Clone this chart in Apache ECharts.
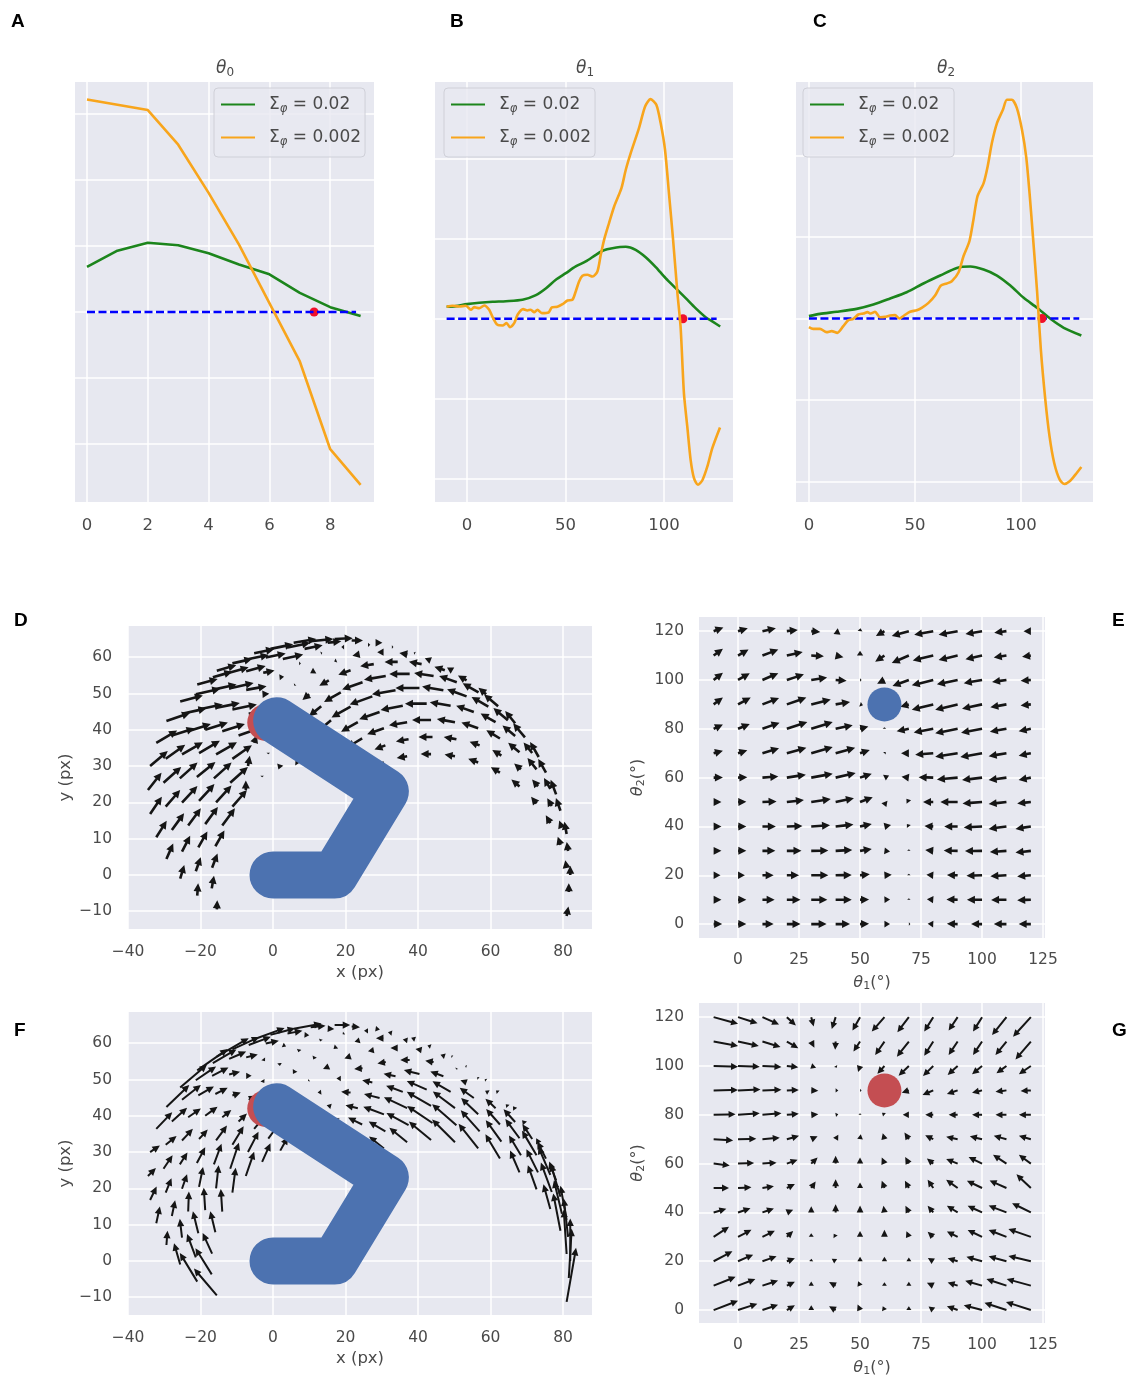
<!DOCTYPE html>
<html><head><meta charset="utf-8">
<style>html,body{margin:0;padding:0;background:#fff}#c{width:1129px;height:1378px}</style>
<script src="https://cdn.jsdelivr.net/npm/echarts@6/dist/echarts.min.js"></script>
</head><body><div id="c"></div>
<script>
// ---- panels A, B, C: curves [x, y] ----
const aGreen=[[0,.683],[1,.928],[2,1.05],[3,1.01],[4,.89],[5,.72],[6,.57],[7,.29],[8,.073],[9,-.063]];
const aOrange=[[0,3.22],[1,3.14],[2,3.06],[3,2.535],[4,1.805],[5,1.02],[6,.135],[7,-.75],[8,-2.08],[9,-2.62]];
const bGreen=[[-10.3,.15],[-5.6,.158],[0,.183],[6.25,.2],[13,.2125],[19.8,.22],[28.2,.2375],[35,.296],[40,.379],[45.1,.488],[50.2,.57],[55.2,.654],[60.3,.717],[65.4,.8],[69.1,.854],[73.8,.883],[80.6,.9],[85.6,.8625],[90.7,.77],[95.8,.646],[100.8,.508],[105.9,.383],[111,.258],[116,.133],[121.1,.02],[124.5,-.033],[128.5,-.096]];
const bOrange=[[-10.3,.15],[-7.3,.1625],[-3.9,.154],[-.5,.1625],[2,.1125],[3.7,.146],[6.25,.133],[8.8,.167],[11.3,.1125],[13.3,.008],[15.5,-.075],[18.1,-.083],[20.1,-.054],[21.8,-.104],[24,-.054],[25.7,.05],[28.5,.121],[30.7,.104],[32.4,.113],[34.1,.083],[35.8,.113],[38,.071],[41.4,.079],[43.1,.142],[45.9,.15],[48.5,.183],[51,.229],[53.5,.2375],[55.2,.342],[56.9,.467],[58.6,.538],[61.1,.55],[63.7,.529],[66.2,.592],[67.9,.8],[69.6,.9875],[72.1,1.196],[74.7,1.404],[78.4,1.633],[80.6,1.863],[83.1,2.071],[87.3,2.383],[90.4,2.654],[93.2,2.746],[96.1,2.675],[98.3,2.446],[100.5,2.113],[102.5,1.571],[104.6,.988],[106.8,.321],[108.4,-.096],[110.1,-.929],[111.8,-1.346],[113.5,-1.763],[115.2,-1.992],[117.2,-2.075],[119.4,-2.021],[122,-1.846],[124.5,-1.617],[128.4,-1.358]];
const cGreen=[[0,.029],[5.2,.057],[13.1,.082],[22.5,.118],[30.4,.171],[38.3,.245],[46.1,.322],[54,.429],[61.9,.527],[69.8,.62],[76.1,.637],[82.4,.6],[88.7,.527],[95,.404],[101.3,.253],[107.6,.131],[113.9,-.004],[120.2,-.114],[128.5,-.208]];
const cOrange=[[0,-.106],[2,-.127],[5.2,-.127],[8.3,-.167],[10.7,-.155],[13.4,-.176],[16.2,-.094],[18.6,-.02],[20.9,-.004],[23.3,.049],[25.7,.061],[27.6,.078],[29.1,.061],[31.2,.082],[33.5,.016],[35.9,.02],[38.3,.037],[40.6,.041],[42.7,0],[44.9,.037],[47.7,.082],[50.9,.102],[53.2,.131],[56.4,.192],[59.5,.282],[62.2,.404],[65,.429],[67.4,.457],[70.6,.567],[72.9,.763],[75.7,.947],[77.6,1.212],[79.5,1.498],[82.4,1.661],[84.3,1.865],[86.3,2.151],[88.7,2.396],[91.5,2.559],[93.4,2.682],[95.7,2.682],[98.1,2.58],[100.5,2.314],[102.5,1.98],[104.1,1.527],[105.7,.996],[107.6,.343],[109.4,-.382],[111.5,-.994],[113.5,-1.445],[115.7,-1.771],[118.3,-1.976],[120.5,-2.029],[123,-1.996],[125.7,-1.914],[128.5,-1.82]];
const aTarget=[[0,0],[8.85,0]], bTarget=[[-10.3,0],[126.7,0]], cTarget=[[0,0],[127.5,0]];
const aDot=[7.47,0], bDot=[109.6,0], cDot=[109.9,0];
const seriesNames=['Σφ = 0.02','Σφ = 0.002'];
// ---- tick values ----
const aXTicks=[0,2,4,6,8], aYTicks=[-2,-1,0,1,2,3];
const bXTicks=[0,50,100], bYTicks=[-2,-1,0,1,2];
const cXTicks=[0,50,100], cYTicks=[-2,-1,0,1,2];
const xyXTicks=[-40,-20,0,20,40,60,80], xyYTicks=[-10,0,10,20,30,40,50,60];
const angXTicks=[0,25,50,75,100,125], angYTicks=[0,20,40,60,80,100,120];
// ---- robot arm and target ----
const armD=[[0,0],[17,0],[31,23],[1,42.5]];
const targetXY=[-2,42];
const targetAng=[60,90];
// ---- vector field grid in joint space ----
const theta1Cols=[-10,0,10,20,30,40,50,60,70,80,90,100,110,120];
const theta2Rows=[0,10,20,30,40,50,60,70,80,90,100,110,120];
// ---- panel E arrows ----
const eU=[[3.5,3.4,4.6,5.6,6.3,5.9,3.7,2.3,.3,-2.3,-4.4,-4.5,-5.2,-5],
[3.2,3.4,5,5.6,6.6,6.6,3.7,2.3,0,-2.6,-4.6,-6.2,-6.3,-5.6],
[2.8,2.8,4.6,5,7,6.6,4,3,0,-2.8,-4.4,-6.4,-6.6,-5.6],
[3.2,3.4,5.3,6,7,6.8,4.8,2.3,0,-3.3,-5.7,-7,-6.8,-6.3],
[3.2,3.4,5.5,6.4,7.7,7.3,4.8,2.7,-.8,-3.6,-5.5,-7.5,-7.3,-6.3],
[3.2,3.4,5.8,7,8,7.5,5.2,.8,-1,-4.2,-7.1,-8,-7.3,-5.6],
[3.8,3.8,6.5,7.8,8.8,8.2,4.8,1.9,-3,-6,-8.5,-8.2,-7.3,-5],
[3.8,3.8,6.8,8,8.8,8,4,.5,-3.2,-7.4,-9.2,-8.9,-7.3,-5],
[3.8,4.8,7,8.4,8.8,7,3.4,0,-5,-8,-9.2,-8.6,-6.8,-5],
[3.8,5.2,6.8,8,8,5.9,1.2,-2,-3.5,-8.8,-9.2,-8.2,-6.6,-4.2],
[3.8,4.8,6.5,7,6.5,4.5,.3,-3,-6.7,-8.8,-8.5,-7.5,-5.9,-4.2],
[3.8,4.3,6.5,6.5,5.2,3.2,0,-3.8,-7,-8.4,-7.8,-6.8,-5.2,-3.6],
[4,4,5.5,4.5,3.7,2,.2,-3.5,-7,-7.8,-7.8,-6.8,-5,-3]];
const eV=[[0,0,0,0,0,0,.1,0,0,.1,.1,0,0,0],
[0,0,0,0,0,0,.1,.1,.2,.2,.1,0,-.1,-.2],
[0,0,0,0,0,.1,.4,.2,.2,.2,.1,-.2,-.4,-.5],
[0,0,0,0,.1,.4,.8,-.3,.3,.3,.1,-.1,-.5,-.7],
[0,0,0,.2,.5,.8,1,.6,1,.2,0,-.4,-1,-1],
[0,.1,.2,.8,1.2,1.6,2,-2,1.3,0,0,-.6,-.8,-.6],
[0,.2,.5,1.2,1.6,1.9,1.6,.9,.4,.2,-.8,-1,-1,-1],
[1,1.2,2,2.2,2.5,2.2,1.3,.5,0,-.6,-1.5,-1.6,-1.2,-1],
[1.8,2,2.5,2.8,2.8,1.5,.9,.3,-1,-1.5,-1.8,-1.6,-1.2,-1],
[2.8,2.8,2.6,2.8,2,1,-.4,-1,-1,-2.2,-2.2,-1.8,-1.2,-.5],
[3,2.8,2.8,2.3,1,-.3,0,-1.5,-2.5,-2.2,-1.8,-1.3,-.8,-.3],
[2.8,2.5,2.5,1.5,-.3,-.7,2,-2.5,-3,-2,-1.8,-1.5,-.8,-.5],
[1.5,1.2,1.2,.5,-.3,-1.5,1.2,-2,-2,-1.5,-1.5,-1.2,-.7,0]];
// ---- panel G arrows ----
const gU=[[10,7.9,6.4,3.3,0,-2.7,-1,-.7,0,-1.9,-4.4,-7.5,-9,-10.2],
[9,7.1,6.4,3.3,0,-2.7,-.8,0,0,-2.6,-4.1,-6.9,-8.2,-9.9],
[7.7,6.2,5.8,3.3,.1,-1.6,0,0,0,-2.2,-4.1,-6.4,-7.3,-9.2],
[6.3,5.5,5.1,2.6,0,-.8,0,0,-1,-2.3,-4.4,-5.9,-7.3,-9.2],
[5.2,5.1,4.7,2.6,0,0,0,-.4,-1.4,-2.3,-4.4,-5.9,-7.3,-7.7],
[6.3,5.5,4.7,3.3,1.8,0,0,-1.1,-1.6,-2.3,-4.7,-6.2,-6.9,-5.9],
[6.6,6.6,5.8,4.4,2.6,0,0,-1.1,-1.5,-2.6,-4.7,-5.5,-5.5,-4.9],
[8,7.5,7.1,5,2.6,1.1,.3,-.7,-1.8,-3.3,-4.7,-5,-5.2,-4.9],
[9,8.9,7.8,4.9,2.9,1.1,0,-1,-2.5,-3.3,-3.7,-4.1,-4.5,-4.9],
[10,9.2,7.8,4.9,2.9,1.1,.2,-2,-2.9,-4.4,-4.4,-4.1,-4.5,-4.2],
[10,8.9,7.8,4.7,2,.5,-.8,-2.9,-4.2,-4.2,-4.1,-4.1,-4.1,-4.9],
[10,8.5,7.4,4.7,1.3,-.2,-2.7,-3.8,-4.9,-3.7,-3.7,-3.7,-4.5,-6.3],
[10,8,6.8,3.7,1,-1.6,-3.1,-5.2,-4.7,-3.7,-3.7,-3.7,-5.9,-7.3]];
const gV=[[3.8,2.6,2.2,2,2,1.6,2.3,1.6,1.6,1.5,1.6,2,3,3.3],
[3.6,2.7,2.1,1.6,1.7,1.5,1.8,1.4,1.6,1.2,1.3,2,2.7,2.7],
[4.1,2.7,2,1.2,1,1,1.8,1.8,1.5,1.3,1.2,1.8,2,2.2],
[4.1,2.9,2.5,2.4,1.5,1.3,2.4,2.9,2.3,2.1,2.2,2.8,2.8,3.2],
[1.5,1.7,1.6,1.1,2.5,3.3,2.8,2.7,2.7,2.7,2.7,2.7,2.8,3.8],
[0,.3,.7,1.6,2.7,3.6,2.3,3,3,3.4,3.4,3,3.1,5.6],
[-.8,.3,.4,1.6,2.5,3.2,2.5,2.5,2.7,2.1,1.9,2.7,3.6,3.6],
[-.5,.2,.6,1.4,1.2,1.8,2,2.4,2.7,1.6,1,1.2,1.4,1.4],
[.2,.6,.6,.4,.2,.2,.5,.8,0,0,0,0,0,0],
[.2,.4,.3,.2,-.1,0,0,-1,-1,-1.9,-1.5,-1,-.6,-.3],
[-.3,-.3,-.4,-.5,-.7,-.7,-2.5,-3.2,-4,-4.1,-3.7,-3.4,-3,-3.4],
[-1.8,-1.8,-2.2,-2.7,-2.5,-3.4,-4.1,-5.5,-6.2,-5.8,-5.5,-5.5,-5.5,-7.3],
[-2.7,-2.5,-3,-3.4,-3.8,-4.9,-5.5,-5.9,-6.2,-5.9,-5.5,-5.9,-7.3,-8]];
// ---- panels D and F: arrow tails in task space ----
const tailX=[[81,82,81,78.1,73.3,66.8,58.8,49.5,39.2,28.3,17,5.7,-5.2,-15.5],
[81.6,81.4,79.3,75.3,69.5,62.1,53.4,43.5,32.8,21.7,10.4,-.7,-11.2,-20.9],
[81,79.7,76.5,71.5,64.8,56.7,47.4,37.1,26.2,15.1,4,-6.7,-16.6,-25.6],
[79.3,76.9,72.7,66.8,59.4,50.7,41,30.5,19.6,8.7,-2,-12.1,-21.3,-29.4],
[76.5,73.1,68,61.4,53.4,44.3,34.4,23.9,13.2,2.7,-7.4,-16.8,-25.1,-32.2],
[72.7,68.4,62.6,55.4,47,37.7,27.8,17.5,7.2,-2.7,-12.1,-20.6,-27.9,-33.9],
[68,63,56.6,49,40.4,31.1,21.4,11.5,1.8,-7.4,-15.9,-23.4,-29.6,-34.5],
[62.6,57,50.2,42.4,33.8,24.7,15.4,6.1,-2.9,-11.2,-18.7,-25.1,-30.2,-33.9],
[56.6,50.6,43.6,35.8,27.4,18.7,10,1.4,-6.7,-14,-20.4,-25.7,-29.6,-32.2],
[50.2,44,37,29.4,21.4,13.3,5.3,-2.4,-9.5,-15.7,-21,-25.1,-27.9,-29.4],
[43.6,37.4,30.6,23.4,16,8.6,1.5,-5.2,-11.2,-16.3,-20.4,-23.4,-25.1,-25.6],
[37,31,24.6,18,11.3,4.8,-1.3,-6.9,-11.8,-15.7,-18.7,-20.6,-21.3,-20.9],
[30.6,25,19.2,13.3,7.5,2,-3,-7.5,-11.2,-14,-15.9,-16.8,-16.9,-15.5]];
const tailY=[[-11.3,0,11.3,22.2,32.5,41.8,49.8,56.3,61.1,64,65,64,61.1,56.3],
[-4.7,6.6,17.7,28.2,37.9,46.5,53.6,59.1,62.8,64.6,64.4,62.3,58.3,52.5],
[1.9,13,23.7,33.6,42.6,50.3,56.4,60.8,63.4,64,62.7,59.5,54.5,47.8],
[8.3,19,29.1,38.3,46.4,53.1,58.1,61.4,62.8,62.3,59.9,55.7,49.8,42.4],
[14.3,24.4,33.8,42.1,49.2,54.8,58.7,60.8,61.1,59.5,56.1,51,44.4,36.4],
[19.7,29.1,37.6,44.9,50.9,55.4,58.1,59.1,58.3,55.7,51.4,45.6,38.4,30],
[24.4,32.9,40.4,46.6,51.5,54.8,56.4,56.3,54.5,51,46,39.6,32,23.4],
[28.2,35.7,42.1,47.2,50.9,53.1,53.6,52.5,49.8,45.6,40,33.2,25.4,16.8],
[31,37.4,42.7,46.6,49.2,50.3,49.8,47.8,44.4,39.6,33.6,26.6,18.8,10.4],
[32.7,38,42.1,44.9,46.4,46.5,45.1,42.4,38.4,33.2,27,19.9,12.4,4.4],
[33.3,37.4,40.4,42.1,42.6,41.8,39.7,36.4,32,26.6,20.4,13.6,6.4,-1],
[32.7,35.7,37.6,38.3,37.9,36.4,33.7,30,25.4,20,14,7.6,1,-5.7],
[31,32.9,33.8,33.6,32.5,30.4,27.3,23.4,18.8,13.6,7.9,2,-3.7,-9.5]];
// ---- panel D arrows ----
const dU=[[.4,0,-.5,-1.2,-1.9,-2.2,-1.7,-1.2,-.2,1.5,4,5,4.4,4.3],
[0,-.3,-1,-1.7,-2.6,-3.1,-1.9,-1.3,.2,2.5,5,5,4.4,4.5],
[-.3,-.6,-1.4,-1.9,-3.2,-3.5,-2.3,-1.8,.5,3,5,4.4,4.3,5],
[-.6,-1,-2,-2.8,-3.7,-3.9,-2.8,-1.4,-.6,4,4.4,4.3,5.4,5.2],
[-1,-1.3,-2.5,-3.3,-4.3,-4.3,-2.9,-1.6,.3,4.5,4.3,5.4,5.4,4.6],
[-1.2,-1.5,-3,-3.9,-4.7,-4.5,-3,-.5,.4,2.5,5.4,5.4,5,3.9],
[-1.8,-2,-3.7,-4.6,-5.3,-4.8,-2.7,-1,1,4.5,5.4,5,4.3,3],
[-2,-2.2,-4,-4.8,-5.2,-4.5,-2.1,-.2,1.5,5.4,5,4.6,3.9,2.6],
[-2.2,-2.8,-4.2,-4.9,-5,-3.7,-1.5,-.1,4,5,4.6,3.9,3.2,2.3],
[-2.3,-3.1,-4,-4.5,-4.2,-2.7,-.4,.6,4.5,4.6,4.1,3.4,2.7,1.5],
[-2.3,-2.8,-3.7,-3.7,-3,-1.7,-.1,.6,4.3,3.9,3.4,2.8,1.8,.9],
[-2.3,-2.4,-3.4,-3,-2,-1,0,.4,3.9,3.4,2.8,2,1.1,.2],
[-2.3,-2.1,-2.5,-1.7,-1.1,-.4,0,0,3.2,2.8,2,1.2,.5,.1]];
const dV=[[2.1,2,2.7,3.2,3.3,2.7,1.4,.7,.1,0,.2,.8,.9,1.2],
[1.9,2,2.8,3,3.1,2.6,1.1,.5,0,0,.5,1,1,1.2],
[1.7,1.6,2.4,2.3,2.7,2,.8,.3,0,.3,1,.9,1.2,1.3],
[1.8,1.7,2.5,2.3,2.1,1.4,.5,0,0,.8,.9,1.2,1.2,1.8],
[1.7,1.5,2.1,1.9,1.6,.7,0,-.3,.1,1,1.2,1.2,1.2,2.7],
[1.5,1.3,1.8,1.4,.8,0,-.5,-.2,0,.5,1.2,1.1,1.6,3.3],
[1.5,1.2,1.3,.8,0,-.8,-1,-.6,.1,.8,1.1,1.6,3.1,3.8],
[1.2,.8,.7,0,-.9,-1.6,-1.2,-.2,.1,1.1,1.6,2.7,3.5,3.8],
[.8,.5,0,-.9,-1.8,-2.1,-1.3,-.1,.9,1.6,2.7,3.5,3.7,3.6],
[.4,0,-.7,-1.6,-2.4,-2.2,-.5,1,1.6,2.7,3.3,3.7,3.7,3.4],
[0,-.5,-1.3,-2.1,-2.5,-2.1,-.2,1.7,3,3.5,3.7,3.8,3.5,3],
[-.4,-.9,-2,-2.5,-2.4,-1.7,-.1,2.3,3.5,3.7,3.8,3.5,3.1,2.7],
[-.8,-1.2,-2.1,-2.1,-1.9,-1.1,-.1,2.1,3.7,3.8,3.5,3.1,2.8,2]];
// ---- panel F arrows ----
const fU=[[2.6,0,-1.7,-1.9,-.7,-.6,-.4,-.3,-1.1,1.2,4.3,7.7,8.4,8.8],
[.8,-1.2,-2.7,-2.4,-.8,-.6,-.3,-.9,-1.1,2.3,4.1,6.8,7.4,8.4],
[-.8,-2.2,-3.3,-2.7,-.6,-.4,-1.2,-1.3,-1.1,1.8,4.1,6.1,6.5,7.4],
[-2,-3,-4,-3.2,-.9,-.1,-1.7,-2.1,-.4,1.3,3.6,4.7,5.6,6.3],
[-1.9,-3.2,-3.9,-2.8,-1.7,-2.3,-2,-1.4,-.2,.9,3.2,4.5,5.2,4.4],
[-2.4,-3.3,-3.8,-3.9,-3.6,-2.6,-1.6,-.8,-.2,.5,3,4.3,4.2,2.7],
[-2.6,-4.3,-4.7,-5,-4.3,-2.3,-1.7,-.4,.1,1.5,3.4,3.5,3,2.2],
[-4,-5.2,-6.1,-5.5,-3.3,-2.3,-1.6,-.6,.5,2.3,3.4,3,2.5,1.8],
[-5.4,-6.7,-6.7,-4.6,-2.8,-1.2,-.3,.5,2.1,2.5,2.4,2.1,1.6,1],
[-6.3,-7,-6.4,-4.3,-2.6,-1,-.2,1.2,2.3,3,2.3,1.4,.9,.3],
[-6.1,-6.1,-5.7,-3.4,-1.2,-.1,1.5,2.8,3.1,2.1,1.1,.2,-.6,-1.7],
[-4.9,-4.6,-3.9,-1.9,.2,1.3,2.7,2.9,2.4,.7,-.4,-1.5,-2.4,-4.8],
[-4.1,-3.4,-2.7,-.8,.8,2.1,2.3,2.3,.9,-.4,-1.4,-2.6,-4.5,-6.3]];
const fV=[[14.9,11.7,9.4,5.2,1.3,.8,.3,.2,.4,-.2,0,1.4,3.1,5.1],
[13.6,10.6,9,4.7,.9,.5,.1,.3,.2,-.2,.4,1.8,3.4,5.9],
[12.2,9.2,7.8,4.1,.6,.3,.4,.2,0,-.1,.7,2.3,3.8,6.3],
[10.3,8.1,6.8,3.5,.5,-.2,.3,0,-.3,-.1,.8,2,3.8,6.1],
[6.8,6.4,5.3,2.6,.6,.4,0,-.4,-.6,-.4,.8,2.3,4.1,4.6],
[6.7,5.5,4.3,2.8,1.3,0,-.3,-.7,-.8,-.7,.7,2.5,3.8,1.8],
[6,5.9,4.5,2.9,1.1,-.4,-.6,-.8,-.8,0,1.7,2.4,2.4,2.2],
[6.7,5.8,4.6,2.4,.7,-.2,-.7,-1,-.8,.8,2.5,3.2,3.7,3.7],
[6.8,5.8,3.9,1.7,.6,0,-.2,-.1,1.1,2,2.6,3.3,4,4.6],
[6.3,4.7,3,1.1,.2,-.1,0,1,2.2,4.1,4.3,4,4.3,3.9],
[5.1,3.4,2.1,.8,.3,.3,1.8,3.4,5.1,5.7,5.5,5.5,5.2,5.9],
[4,2.7,1.9,1.3,1.3,2.1,3.7,5.6,7.2,6.4,6.2,6.1,6.4,7.9],
[3.3,2.1,1.7,1.6,2.2,3.8,5.1,6.7,6.9,6.2,5.8,5.7,7.2,7.4]];

// ---- helpers ----
const FONT='DejaVu Sans', TXT='#4a4a4a', GRIDLINE='#ffffff', PLOTBG='#e7e8f0';
const minusFmt=v=>v<0?'\u2212'+(-v):String(v);
const nameRich={t:{fontFamily:FONT,fontStyle:'italic',fontWeight:'normal',fontSize:16,color:TXT},s:{fontFamily:FONT,fontWeight:'normal',fontSize:11,color:TXT,padding:[7,0,0,0]},n:{fontFamily:FONT,fontWeight:'normal',fontSize:16,color:TXT}};
function xAxisOf(g,min,max,ticks,name,gap,size,margin){return {type:'value',gridIndex:g,min,max,scale:true,
  name:name||'',nameLocation:'middle',nameGap:gap||0,nameTextStyle:{rich:nameRich,fontFamily:FONT,fontSize:16.5,color:TXT},
  axisLine:{show:false},axisTick:{show:false,customValues:ticks},
  axisLabel:{customValues:ticks,formatter:minusFmt,fontFamily:FONT,fontSize:size,color:TXT,margin:margin,hideOverlap:false,showMinLabel:true,showMaxLabel:true},
  splitLine:{show:true,customValues:ticks,showMinLine:true,showMaxLine:true,lineStyle:{color:GRIDLINE,width:1.5}}};}
function yAxisOf(g,min,max,ticks,name,gap,size,margin,hideLabels){const a=xAxisOf(g,min,max,ticks,name,gap,size,margin);a.axisLabel.show=!hideLabels;return a;}
function flatField(xs,ys,us,vs){const out=[];for(let r=0;r<xs.length;r++)for(let c=0;c<xs[r].length;c++)out.push([xs[r][c],ys[r][c],us[r][c],vs[r][c]]);return out;}
function flatGrid(us,vs){const out=[];theta2Rows.forEach((t2,r)=>theta1Cols.forEach((t1,c)=>out.push([t1,t2,us[r][c],vs[r][c]])));return out;}
function arrowItem(hw,hh,hl,scale){return function(params,api){
  const p0=api.coord([api.value(0),api.value(1)]);
  const p1=api.coord([api.value(0)+api.value(2)*scale,api.value(1)+api.value(3)*scale]);
  let dx=p1[0]-p0[0],dy=p1[1]-p0[1],len=Math.hypot(dx,dy);
  if(len<1.5){const m=len||1;dx=(len?dx/m:1)*1.5;dy=(len?dy/m:0)*1.5;len=1.5;}
  const ux=dx/len,uy=dy/len,nx=-uy,ny=ux;
  const k=Math.min(1,len/hl),L=hl*k,H=Math.max(hh*Math.sqrt(k),1),W=Math.min(hw,H*.6);
  const bx=p0[0]+dx-ux*L,by=p0[1]+dy-uy*L;
  const pts=[[p0[0]+nx*W,p0[1]+ny*W],[bx+nx*W,by+ny*W],[bx+nx*H,by+ny*H],[p0[0]+dx,p0[1]+dy],[bx-nx*H,by-ny*H],[bx-nx*W,by-ny*W],[p0[0]-nx*W,p0[1]-ny*W]];
  return {type:'polygon',shape:{points:pts},style:{fill:'#151515'}};
};}
const legendRich={b:{fontFamily:FONT,fontSize:17,color:TXT},s:{fontFamily:FONT,fontStyle:'italic',fontSize:11.5,color:TXT,padding:[9,0,0,0]}};
function legendAt(left,top){return {left,top,orient:'vertical',data:seriesNames,selectedMode:false,itemWidth:34,itemHeight:14,itemGap:14,padding:[8,4,9,6],
  backgroundColor:'rgba(232,233,241,.8)',borderColor:'#cfd0d8',borderWidth:1,borderRadius:4,
  itemStyle:{opacity:0,borderWidth:0},
  textStyle:{rich:legendRich,padding:[0,0,0,9]},
  formatter:n=>'{b|Σ}{s|φ}{b|'+n.slice(2)+'}'};}
function curves(g,green,orange,target,dot,dotOver,smooth){
  const line={type:'line',xAxisIndex:g,yAxisIndex:g,symbol:'none',smooth,silent:true};
  const tgt={...line,smooth:false,name:'target',data:target,z:dotOver?3:5,lineStyle:{color:'#0000ff',width:2.4,type:[8,3.5]}};
  const pt={type:'scatter',name:'goal',xAxisIndex:g,yAxisIndex:g,data:[dot],symbolSize:9,z:4,itemStyle:{color:'#f0102a',opacity:1},silent:true};
  return [
   {...line,name:seriesNames[0],data:green,z:3,itemStyle:{color:'#1c851c'},lineStyle:{color:'#1c851c',width:2.6}},
   {...line,name:seriesNames[1],data:orange,z:6,itemStyle:{color:'#f8a51c'},lineStyle:{color:'#f8a51c',width:2.6}},tgt,pt];
}
function field(g,data,hw,hh,hl,scale){return {type:'custom',xAxisIndex:g,yAxisIndex:g,data,silent:true,z:2,clip:false,renderItem:arrowItem(hw,hh,hl,scale),encode:{x:0,y:1}};}
function disc(g,pos,color,size){return {type:'scatter',xAxisIndex:g,yAxisIndex:g,data:[pos],symbolSize:size,z:7,silent:true,itemStyle:{color,opacity:1}};}
function arm(g){return {type:'line',xAxisIndex:g,yAxisIndex:g,data:armD,symbol:'none',z:8,silent:true,lineStyle:{color:'#4c72b0',width:47,cap:'round',join:'round'}};}

const plain=(text,left,top)=>({text,left,top,textStyle:{fontFamily:'Liberation Sans',fontWeight:'bold',fontSize:19,color:'#000'}});
const greek=(sub,left)=>({text:'{t|θ}{s|'+sub+'}',left,top:54,textAlign:'center',textStyle:{fontWeight:'normal',rich:{t:{fontFamily:FONT,fontStyle:'italic',fontWeight:'normal',fontSize:17,color:TXT},s:{fontFamily:FONT,fontWeight:'normal',fontSize:12,color:TXT,padding:[8,0,0,0]}}}});

const grids=[[75,82,299,420],[435,82,298,420],[796,82,297,420],[128,626,464,303],[699,617,346,321],[128,1012,464,303],[699,1003,346,320]]
 .map(g=>({left:g[0],top:g[1],width:g[2],height:g[3],show:true,backgroundColor:PLOTBG,borderWidth:0,containLabel:false,outerBoundsMode:'none'}));
const thetaName=n=>'{t|θ}{s|'+n+'}{n|(°)}';

const option={animation:false,backgroundColor:'#fff',
 title:[plain('A',6,7),plain('B',445,7),plain('C',808,7),plain('D',9,606),plain('E',1107,606),plain('F',9,1016),plain('G',1107,1016),greek('0',220),greek('1',580),greek('2',941)],
 legend:[legendAt(214,88),legendAt(444,88),legendAt(803,88)],
 grid:grids,
 xAxis:[xAxisOf(0,-.395,9.44,aXTicks,'',0,16.5,15),xAxisOf(1,-16.2,135,bXTicks,'',0,16.5,15),xAxisOf(2,-6.1,134,cXTicks,'',0,16.5,15),
  xAxisOf(3,-40,88,xyXTicks,'x (px)',35,15.5,15),xAxisOf(4,-16,125.8,angXTicks,thetaName('1'),36,15.5,14),
  xAxisOf(5,-40,88,xyXTicks,'x (px)',35,15.5,15),xAxisOf(6,-16,125.8,angXTicks,thetaName('1'),36,15.5,14)],
 yAxis:[yAxisOf(0,-2.88,3.485,aYTicks,'',0,15,10,true),yAxisOf(1,-2.29,2.96,bYTicks,'',0,15,10,true),yAxisOf(2,-2.25,2.9,cYTicks,'',0,15,10,true),
  yAxisOf(3,-14.9,68.6,xyYTicks,'y (px)',54,15.5,16),yAxisOf(4,-5.7,125.8,angYTicks,thetaName('2'),52,15.5,15),
  yAxisOf(5,-14.9,68.6,xyYTicks,'y (px)',54,15.5,16),yAxisOf(6,-5.3,125.8,angYTicks,thetaName('2'),52,15.5,15)],
 series:[
  ...curves(0,aGreen,aOrange,aTarget,aDot,false,false),
  ...curves(1,bGreen,bOrange,bTarget,bDot,true,.25),
  ...curves(2,cGreen,cOrange,cTarget,cDot,true,.25),
  field(3,flatField(tailX,tailY,dU,dV),1.3,4,8,1.25), disc(3,targetXY,'#c44e52',37), arm(3),
  field(4,flatGrid(eU,eV),1.3,4,8,1), disc(4,targetAng,'#4c72b0',34),
  field(5,flatField(tailX,tailY,fU,fV),1,3.6,7.5,1), disc(5,targetXY,'#c44e52',37), arm(5),
  field(6,flatGrid(gU,gV),1,3.4,7,1), disc(6,targetAng,'#c44e52',34)
 ]};
echarts.init(document.getElementById('c'),null,{renderer:'canvas'}).setOption(option);
</script></body></html>
